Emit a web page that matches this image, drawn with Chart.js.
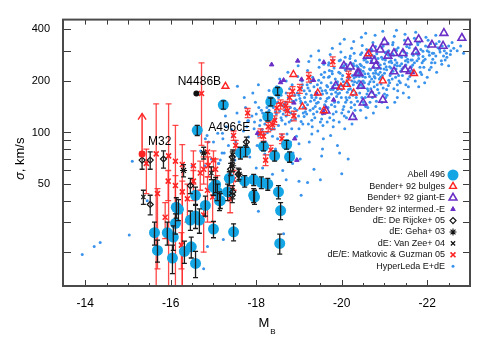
<!DOCTYPE html>
<html>
<head>
<meta charset="utf-8">
<script src="https://cdn.jsdelivr.net/npm/chart.js@4.4.1/dist/chart.umd.min.js"></script>
<style>
  html, body { margin: 0; padding: 0; background: #fff; }
  #wrap { width: 480px; height: 343px; }
</style>
</head>
<body>
<div id="wrap"><canvas id="fj" width="480" height="343"></canvas></div>
<script>
const FONT = "'Liberation Sans', Arial, Helvetica, sans-serif";

// axis ticks
const X_LABELS = [-14, -16, -18, -20, -22];
const X_MINOR = [-14, -14.5, -15, -15.5, -16, -16.5, -17, -17.5, -18, -18.5, -19, -19.5, -20, -20.5, -21, -21.5, -22, -22.5];
const Y_TICKS = [20, 30, 40, 50, 60, 70, 80, 90, 100, 200, 300, 400];
const Y_LABELS = [50, 100, 200, 400];

// Abell 496: [M_B, sigma, err]
const ABELL496 = [
  [-17.23,145,8],[-16.62,103,7],[-18.5,174,9],[-18.34,151,8],[-18.27,124,7],[-18.17,83,5],[-18.43,73,5],
  [-18.78,72,5],[-18.71,85,5],[-17.75,78,6],[-17.63,76,6],[-17.37,54,5],[-17.73,52,4],[-17.94,53,4],
  [-18.12,51,4],[-18.27,50,4],[-18.52,45,4],[-17.96,42,4],[-17.09,45,5],[-17.33,45,5],[-17.14,40,5],
  [-18.57,35,4],[-18.55,22.5,3],[-15.62,26,4],[-15.69,20.5,3],[-15.92,26,4],[-16.06,24.5,4],[-16.04,18.5,3.5],
  [-16.11,29.5,4],[-16.13,36.6,5],[-16.18,35.6,5],[-16.32,20.2,3],[-16.48,21.5,3],[-16.58,17.2,3],
  [-16.46,30.8,4],[-16.58,32.5,5],[-16.67,30.8,5],[-16.58,43,5],[-16.81,37.5,5],[-17.0,27.3,3],
  [-17.05,49.6,5],[-17.16,40,4],[-17.0,48,5],[-17.47,26.3,3],[-17.94,43,4]
];

// Matkovic & Guzman 05: [M_B, sigma, bar low, bar high]
const MATKOVIC = [
  [-15.43,66,44,80],[-15.66,75,12,147],[-15.95,73,12,147],[-16.11,68,12,110],[-16.27,65,12,85],
  [-15.69,44,16,47],[-15.87,32,24,39],[-16.25,22,16,26],[-15.94,52,40,60],[-16.11,49,38,56],
  [-16.27,45,12,52],[-16.39,41,30,50],[-16.53,52,40,60],[-16.69,58,46,68],[-16.86,46,30,55],
  [-16.98,42,30,48],[-17.09,48,40,56],[-16.77,33,20,38],[-17.39,41,34,48],[-17.47,53,46,60],
  [-16.86,77,66,88],[-17.0,69,60,78],[-16.88,64,55,72],[-17.05,61,52,70],[-16.77,61,50,72],
  [-16.53,64,50,78],[-16.72,169,84,255],
  [-19.79,259,243,276],[-19.23,210,197,224],[-18.85,174,163,185],[-18.78,160,150,170],[-18.69,143,134,152],
  [-18.57,146,137,155],[-18.48,139,130,148],[-18.73,134,126,142],[-18.88,125,117,133],[-18.43,118,111,125],
  [-18.38,111,104,118],[-17.8,130,122,138],[-20.16,215,202,228],[-18.28,108,101,115],[-18.17,95,89,101],
  [-18.22,69,64,74],[-18.1,99,93,105],[-18.34,79,74,84],[-18.3,122,115,129],[-18.6,92,86,98],
  [-19.02,180,169,191],[-17.47,96,90,102],[-17.52,84,78,90]
];

const BENDER_BULGES = [
  [-17.28,186],[-18.87,218],[-19.08,141],[-19.44,170],[-19.58,134],[-19.98,184],[-20.12,191],
  [-20.28,170],[-20.96,200],[-20.63,288],[-21.69,221]
];
const BENDER_GIANT = [
  [-22.39,380],[-22.81,356],[-22.37,320],[-22.11,325],[-21.8,350],[-21.55,337],[-21.0,337],[-20.73,308],
  [-20.9,304],[-21.22,290],[-21.43,290],[-21.73,296],[-21.08,280],[-20.76,262],[-20.4,222],[-21.48,233],
  [-21.22,227],[-20.45,187],[-20.7,166],[-20.96,155],[-20.5,149],[-20.8,245],[-20.6,280],[-20.05,245],
  [-20.2,242],[-20.37,222],[-19.86,187],[-20.26,123],[-19.63,134],[-21.6,228]
];
const BENDER_INTERMED = [
  [-18.36,249],[-18.97,262],[-18.64,202],[-18.57,196],[-19.06,204],[-19.34,202],[-19.41,168],
  [-19.58,130],[-19.81,155],[-19.58,257],[-18.03,99],[-18.9,92],[-18.95,69],[-18.88,149]
];
// [M_B, sigma, err]
const DE_RIJCKE = [
  [-15.33,69,8],[-15.52,69,8],[-15.83,70,8],[-15.52,38,5],[-16.46,49,5],[-17.44,43,4],[-17.77,88,6],
  [-17.4,61,5],[-17.58,57,5],[-17.45,45,4],[-17.44,72,5]
];
const GEHA = [[-16.77,76,6],[-17.45,64,5],[-17.6,57,4],[-16.3,60,5]];
const VAN_ZEE = [[-15.36,42,4],[-17.45,74,5],[-16.95,58,5]];

const HYPERLEDA = [
  [-16.7,78],[-16.85,96],[-16.8,64],[-17.0,88],[-17.1,99],[-16.95,70],[-17.12,66],
  [-17.2,76],[-17.3,108],[-17.22,92],[-17.35,84],[-17.28,125],
  [-17.45,95],[-17.55,130],[-17.5,69],[-17.6,115],[-17.42,104],[-17.56,186],[-17.52,88],
  [-17.7,102],[-17.8,117],[-17.75,140],[-17.68,80],[-17.82,94],[-17.9,125],[-17.72,160],[-17.85,72],[-17.78,108],
  [-17.95,105],[-18.0,128],[-18.05,96],[-17.98,150],[-18.1,118],[-18.02,84],[-17.92,170],[-18.08,110],[-18.12,135],[-18.0,62],[-18.05,190],
  [-17.96,115],[-18.06,140],[-18.14,104],
  [-18.2,112],[-18.25,140],[-18.3,125],[-18.18,98],[-18.28,160],[-18.35,104],[-18.22,88],[-18.3,176],[-18.15,130],[-18.27,117],[-18.33,146],[-18.2,75],[-18.38,95],
  [-18.21,122],[-18.3,135],[-18.26,100],[-18.36,128],
  [-18.45,120],[-18.5,150],[-18.55,133],[-18.42,105],[-18.58,165],[-18.5,92],[-18.48,185],[-18.6,118],[-18.4,140],[-18.52,110],[-18.62,143],[-18.45,80],[-18.55,205],[-18.47,128],[-18.6,97],
  [-18.45,132],[-18.58,122],[-18.52,160],[-18.4,112],[-18.63,128],[-18.36,150],
  [-18.7,125],[-18.75,160],[-18.8,140],[-18.68,112],[-18.78,180],[-18.82,118],[-18.72,98],[-18.85,152],[-18.7,200],[-18.76,132],[-18.8,88],[-18.66,146],[-18.88,128],[-18.74,225],[-18.83,105],[-18.7,170],[-18.86,76],
  [-18.69,150],[-18.81,130],[-18.77,115],[-18.9,165],[-18.67,135],[-18.84,190],
  [-18.95,135],[-19.0,165],[-19.05,148],[-18.92,120],[-19.08,190],[-19.0,105],[-18.97,212],[-19.1,130],[-19.02,158],[-18.94,95],[-19.12,175],[-19.05,116],[-18.98,245],[-19.1,140],[-19.0,86],[-19.07,200],[-18.93,155],[-19.12,124],[-19.03,70],
  [-18.9,138],[-19.04,152],[-19.15,132],[-18.96,170],[-19.09,112],[-19.13,160],[-18.99,125],[-19.06,182],
  [-19.2,145],[-19.25,175],[-19.3,160],[-19.18,128],[-19.28,200],[-19.33,138],[-19.22,112],[-19.35,185],[-19.2,230],[-19.27,152],[-19.3,98],[-19.17,168],[-19.37,122],[-19.23,260],[-19.32,210],[-19.26,135],[-19.19,190],[-19.36,155],[-19.24,88],[-19.3,118],[-19.28,280],
  [-19.15,150],[-19.29,165],[-19.38,142],[-19.21,182],[-19.34,128],[-19.27,195],[-19.16,138],[-19.4,172],[-19.31,108],
  [-19.45,150],[-19.5,182],[-19.55,168],[-19.42,132],[-19.58,210],[-19.5,115],[-19.47,240],[-19.6,145],[-19.52,195],[-19.44,102],[-19.62,176],[-19.55,128],[-19.48,265],[-19.6,225],[-19.5,158],[-19.43,190],[-19.57,92],[-19.62,140],[-19.46,300],[-19.53,120],[-19.58,250],[-19.41,170],[-19.55,80],
  [-19.4,160],[-19.54,175],[-19.63,152],[-19.46,202],[-19.59,135],[-19.52,218],[-19.41,148],[-19.65,188],[-19.56,110],[-19.49,138],
  [-19.7,160],[-19.75,195],[-19.8,178],[-19.68,140],[-19.78,220],[-19.83,150],[-19.72,122],[-19.85,205],[-19.7,255],[-19.76,168],[-19.8,108],[-19.67,185],[-19.87,132],[-19.73,285],[-19.82,238],[-19.76,145],[-19.69,210],[-19.86,172],[-19.74,96],[-19.8,128],[-19.78,310],[-19.71,230],[-19.84,190],[-19.66,115],[-19.79,265],
  [-19.65,170],[-19.79,185],[-19.88,162],[-19.71,212],[-19.84,142],[-19.77,228],[-19.66,158],[-19.9,198],[-19.81,118],[-19.74,178],[-19.69,248],
  [-19.95,170],[-20.0,205],[-20.05,188],[-19.92,150],[-20.08,232],[-20.0,130],[-19.97,265],[-20.1,160],[-20.02,215],[-19.94,115],[-20.12,195],[-20.05,142],[-19.98,295],[-20.1,250],[-20.0,178],[-19.93,225],[-20.07,105],[-20.12,155],[-19.96,330],[-20.03,136],[-20.08,275],[-19.91,190],[-20.05,245],[-20.11,122],[-19.99,160],[-20.06,350],
  [-19.9,178],[-20.04,198],[-20.13,172],[-19.96,222],[-20.09,150],[-20.02,240],[-19.91,168],[-20.15,208],[-20.06,125],[-19.99,188],[-19.94,262],[-20.1,230],
  [-20.2,180],[-20.25,215],[-20.3,198],[-20.18,160],[-20.28,245],[-20.33,170],[-20.22,140],[-20.35,228],[-20.2,280],[-20.27,190],[-20.3,125],[-20.17,208],[-20.37,152],[-20.23,310],[-20.32,262],[-20.26,165],[-20.19,235],[-20.36,195],[-20.24,112],[-20.3,145],[-20.28,340],[-20.21,255],[-20.34,212],[-20.16,132],[-20.29,290],[-20.25,175],[-20.38,240],
  [-20.15,190],[-20.29,208],[-20.38,182],[-20.21,232],[-20.34,160],[-20.27,252],[-20.16,178],[-20.4,222],[-20.31,135],[-20.24,200],[-20.19,270],[-20.35,245],[-20.22,150],
  [-20.45,190],[-20.5,228],[-20.55,210],[-20.42,170],[-20.58,258],[-20.5,150],[-20.47,292],[-20.6,180],[-20.52,240],[-20.44,135],[-20.62,220],[-20.55,160],[-20.48,322],[-20.6,275],[-20.5,200],[-20.43,250],[-20.57,122],[-20.62,175],[-20.46,360],[-20.53,145],[-20.58,305],[-20.41,212],[-20.55,268],[-20.61,140],[-20.49,185],[-20.56,380],[-20.44,232],
  [-20.4,200],[-20.54,220],[-20.63,192],[-20.46,245],[-20.59,168],[-20.52,265],[-20.41,188],[-20.65,235],[-20.56,142],[-20.49,212],[-20.44,285],[-20.6,258],[-20.47,160],[-20.53,195],
  [-20.7,205],[-20.75,240],[-20.8,222],[-20.68,180],[-20.78,272],[-20.83,190],[-20.72,160],[-20.85,255],[-20.7,305],[-20.76,212],[-20.8,142],[-20.67,232],[-20.87,170],[-20.73,335],[-20.82,288],[-20.76,185],[-20.69,262],[-20.86,218],[-20.74,130],[-20.8,165],[-20.78,370],[-20.71,282],[-20.84,236],[-20.66,150],[-20.79,318],[-20.75,198],
  [-20.65,212],[-20.79,230],[-20.88,205],[-20.71,255],[-20.84,178],[-20.77,278],[-20.66,198],[-20.9,248],[-20.81,152],[-20.74,222],[-20.69,298],[-20.85,270],[-20.72,172],[-20.78,208],
  [-20.95,215],[-21.0,252],[-21.05,232],[-20.92,192],[-21.08,285],[-21.0,168],[-20.97,320],[-21.1,202],[-21.02,265],[-20.94,150],[-21.12,242],[-21.05,178],[-20.98,350],[-21.1,300],[-21.0,222],[-20.93,275],[-21.07,140],[-21.12,195],[-20.96,390],[-21.03,160],[-21.08,332],[-20.91,236],[-21.05,295],[-21.11,258],
  [-20.9,225],[-21.04,242],[-21.13,215],[-20.96,268],[-21.09,188],[-21.02,292],[-20.91,210],[-21.15,262],[-21.06,165],[-20.99,235],[-20.94,312],[-21.1,282],[-20.97,182],
  [-21.2,228],[-21.25,265],[-21.3,245],[-21.18,205],[-21.28,300],[-21.33,215],[-21.22,180],[-21.35,280],[-21.2,335],[-21.27,235],[-21.3,160],[-21.17,255],[-21.37,195],[-21.23,365],[-21.32,312],[-21.26,210],[-21.19,288],[-21.36,245],[-21.24,150],[-21.3,190],[-21.28,395],
  [-21.15,238],[-21.29,255],[-21.38,228],[-21.21,282],[-21.34,200],[-21.27,305],[-21.16,222],[-21.4,275],[-21.31,175],[-21.24,248],[-21.19,325],
  [-21.45,240],[-21.5,278],[-21.55,258],[-21.42,215],[-21.58,312],[-21.5,190],[-21.47,345],[-21.6,228],[-21.52,290],[-21.44,170],[-21.62,265],[-21.55,205],[-21.48,375],[-21.6,325],[-21.5,248],[-21.43,300],[-21.57,160],[-21.62,220],
  [-21.4,252],[-21.54,268],[-21.63,242],[-21.46,295],[-21.59,212],[-21.52,318],[-21.41,235],[-21.65,288],[-21.56,185],[-21.49,262],
  [-21.7,255],[-21.75,292],[-21.8,270],[-21.68,228],[-21.78,325],[-21.83,240],[-21.72,200],[-21.85,305],[-21.7,355],[-21.76,262],[-21.8,185],[-21.67,282],[-21.87,218],[-21.73,385],[-21.82,338],
  [-21.65,265],[-21.79,282],[-21.88,255],[-21.71,308],[-21.84,225],[-21.77,335],[-21.66,248],[-21.9,298],
  [-21.95,268],[-22.0,300],[-22.05,282],[-21.92,240],[-22.08,330],[-22.0,210],[-21.97,360],[-22.1,255],[-22.02,315],[-21.94,195],[-22.12,290],[-22.05,232],
  [-21.9,278],[-22.04,295],[-22.13,268],[-21.96,320],[-22.09,240],[-22.02,345],[-21.91,262],
  [-22.2,280],[-22.25,312],[-22.3,295],[-22.18,255],[-22.28,340],[-22.33,262],[-22.22,225],[-22.35,320],[-22.2,370],
  [-22.15,290],[-22.29,305],[-22.38,280],[-22.21,330],[-22.34,250],
  [-22.45,290],[-22.5,320],[-22.55,300],[-22.42,265],[-22.58,335],[-22.5,245],[-22.7,300],[-22.78,320],[-22.85,290],
  [-22.4,300],[-22.54,285],[-22.62,310],[-22.46,275],
  [-13.93,19.4],[-14.21,21.6],[-14.35,22.8],[-15.03,25.2],[-15.1,68],[-15.45,40],[-16.86,21.6],[-17.23,23.7],
  [-16.77,16],[-16.5,64],[-16.81,92],[-16.88,88],[-17.16,69],[-18.05,34.7],[-18.64,25.6],[-19.2,51],[-19.05,43],
  [-20.0,57.5],[-19.5,53],[-19.35,61],[-19.95,76],[-19.9,84],[-19.53,73],[-20.15,70],[-18.85,66],[-18.62,60],
  [-18.38,57],[-18.15,62],[-18.29,47.6],[-18.7,53],[-19.0,52],[-17.12,66],[-17.21,99],[-17.82,117],[-17.25,76]
];

// labelled objects
const N4486B = [-16.6, 169];
const M32 = [-15.33, 75];
const M32_LIMIT = 129;   // arrow tip
const A496CE = [-16.62, 103];

const CYAN = "#14a6e4", RED = "#ff2424", PURPLE = "#6a2fc6", LEDA = "#3a93ec";

const sym = (arr) => arr.map(p => ({ x: p[0], y: p[1] }));
const withErr = (arr) => arr.map(p => ({ x: p[0], y: p[1], lo: p[1] - p[2], hi: p[1] + p[2] }));
const withBar = (arr) => arr.map(p => ({ x: p[0], y: p[1], lo: p[2], hi: p[3] }));

const datasets = [
  { label: "N4486B", data: sym([N4486B]), pointStyle: "circle", pointRadius: 3, backgroundColor: "#111", borderWidth: 0 },
  { label: "M32", data: sym([M32]), pointStyle: "circle", pointRadius: 3.5, backgroundColor: RED, borderWidth: 0 },
  { label: "dE: Van Zee+ 04", data: withErr(VAN_ZEE), pointStyle: "crossRot", pointRadius: 3, borderColor: "#111", borderWidth: 1.2, errColor: "#222", cap: 2.5 },
  { label: "dE: Geha+ 03", data: withErr(GEHA), pointStyle: "star", pointRadius: 3.5, borderColor: "#111", borderWidth: 1.1, errColor: "#222", cap: 2.5 },
  { label: "dE: De Rijcke+ 05", data: withErr(DE_RIJCKE), pointStyle: "rectRot", pointRadius: 3, backgroundColor: "rgba(0,0,0,0)", borderColor: "#111", borderWidth: 1.2, errColor: "#222", cap: 2.5 },
  { label: "Abell 496", data: withErr(ABELL496), pointStyle: "circle", pointRadius: 5.5, backgroundColor: CYAN, borderWidth: 0, errColor: "#1a1a1a", cap: 2.5 },
  { label: "dE/E: Matkovic & Guzman 05", data: withBar(MATKOVIC), pointStyle: "crossRot", pointRadius: 3.5, borderColor: RED, borderWidth: 1.6, errColor: "rgba(255,40,40,0.85)", cap: 3 },
  { label: "Bender+ 92 bulges", data: sym(BENDER_BULGES), pointStyle: "triangle", pointRadius: 4, backgroundColor: "rgba(0,0,0,0)", borderColor: RED, borderWidth: 1.4 },
  { label: "Bender+ 92 intermed.-E", data: sym(BENDER_INTERMED), pointStyle: "triangle", pointRadius: 2.6, backgroundColor: PURPLE, borderColor: PURPLE, borderWidth: 1 },
  { label: "Bender+ 92 giant-E", data: sym(BENDER_GIANT), pointStyle: "triangle", pointRadius: 4.5, backgroundColor: "rgba(0,0,0,0)", borderColor: PURPLE, borderWidth: 1.6 },
  { label: "HyperLeda E+dE", data: sym(HYPERLEDA), pointStyle: "circle", pointRadius: 1.5, backgroundColor: LEDA, borderWidth: 0 }
];

const LEGEND = ["Abell 496", "Bender+ 92 bulges", "Bender+ 92 giant-E", "Bender+ 92 intermed.-E",
  "dE: De Rijcke+ 05", "dE: Geha+ 03", "dE: Van Zee+ 04", "dE/E: Matkovic & Guzman 05", "HyperLeda E+dE"];

function line(ctx, x1, y1, x2, y2) {
  ctx.beginPath(); ctx.moveTo(x1, y1); ctx.lineTo(x2, y2); ctx.stroke();
}

// error bars, drawn right after their own dataset
const errBars = {
  id: "errBars",
  afterDatasetDraw(chart, args) {
    const ds = chart.data.datasets[args.index];
    if (!ds.errColor) return;
    const { ctx, chartArea: a, scales: { x, y } } = chart;
    ctx.save();
    ctx.beginPath(); ctx.rect(a.left, a.top, a.width, a.height); ctx.clip();
    ctx.strokeStyle = ds.errColor;
    ctx.lineWidth = 1.3;
    ds.data.forEach(p => {
      const px = x.getPixelForValue(p.x);
      const y1 = y.getPixelForValue(p.lo), y2 = y.getPixelForValue(p.hi);
      line(ctx, px, y1, px, y2);
      line(ctx, px - ds.cap, y1, px + ds.cap, y1);
      line(ctx, px - ds.cap, y2, px + ds.cap, y2);
    });
    ctx.restore();
  }
};

const frame = {
  id: "frame",
  afterDraw(chart) {
    const { ctx, chartArea: a, scales: { x, y } } = chart;
    const H = Chart.helpers;
    ctx.save();

    // arrow on M32
    ctx.strokeStyle = RED; ctx.lineWidth = 1.4;
    const ax = x.getPixelForValue(M32[0]);
    const ay1 = y.getPixelForValue(M32[1]) - 3, ay2 = y.getPixelForValue(M32_LIMIT);
    line(ctx, ax, ay1, ax, ay2);
    ctx.beginPath(); ctx.moveTo(ax - 4, ay2 + 6); ctx.lineTo(ax, ay2); ctx.lineTo(ax + 4, ay2 + 6); ctx.stroke();

    // object names
    ctx.fillStyle = "#000";
    ctx.font = "12px " + FONT;
    ctx.textBaseline = "middle";
    ctx.textAlign = "center";
    ctx.fillText("N4486B", x.getPixelForValue(N4486B[0]) + 3, y.getPixelForValue(N4486B[1]) - 12);
    ctx.textAlign = "left";
    ctx.fillText("A496cE", x.getPixelForValue(A496CE[0]) + 11, y.getPixelForValue(A496CE[1]) - 3);
    ctx.fillText("M32", x.getPixelForValue(M32[0]) + 6, y.getPixelForValue(M32[1]) - 12);

    // ticks on all four sides, pointing in
    ctx.strokeStyle = "#3c3c3c"; ctx.lineWidth = 1;
    Y_TICKS.forEach(v => {
      const py = Math.round(y.getPixelForValue(v)) + 0.5;
      line(ctx, a.left, py, a.left + 8, py);
      line(ctx, a.right, py, a.right - 7, py);
    });
    X_MINOR.forEach(v => {
      const px = Math.round(x.getPixelForValue(v)) + 0.5;
      const big = X_LABELS.includes(v);
      line(ctx, px, a.bottom, px, a.bottom - (big ? 6 : 3));
      line(ctx, px, a.top, px, a.top + 5);
    });
    ctx.strokeStyle = "#4a4a4a"; ctx.lineWidth = 2;
    ctx.strokeRect(a.left, a.top, a.width, a.height);

    // axis titles
    ctx.fillStyle = "#000";
    ctx.save();
    ctx.translate(20, (a.top + a.bottom) / 2 + 6);
    ctx.rotate(-Math.PI / 2);
    ctx.textAlign = "left";
    ctx.textBaseline = "middle";
    ctx.font = "italic 13px " + FONT;
    const w1 = ctx.measureText("σ").width;
    ctx.font = "13px " + FONT;
    const w2 = ctx.measureText(", km/s").width;
    ctx.font = "italic 13px " + FONT;
    ctx.fillText("σ", -(w1 + w2) / 2, 0);
    ctx.font = "13px " + FONT;
    ctx.fillText(", km/s", -(w1 + w2) / 2 + w1, 0);
    ctx.restore();

    ctx.textAlign = "left"; ctx.textBaseline = "alphabetic";
    const mx = (a.left + a.right) / 2 - 8;
    ctx.font = "13px " + FONT;
    ctx.fillText("M", mx, 327);
    ctx.font = "8px " + FONT;
    ctx.fillText("B", mx + ctx.measureText("M").width + 5, 334);

    // legend, text right-aligned with the symbol on the right
    ctx.font = "9px " + FONT;
    ctx.textAlign = "right"; ctx.textBaseline = "middle";
    LEGEND.forEach((lab, i) => {
      const ly = 175 + i * 11.4;
      ctx.fillStyle = "#111";
      ctx.fillText(lab, 445, ly);
      const ds = datasets.find(d => d.label === lab);
      ctx.fillStyle = ds.backgroundColor || "rgba(0,0,0,0)";
      ctx.strokeStyle = ds.borderColor || "rgba(0,0,0,0)";
      ctx.lineWidth = ds.borderWidth || 0;
      H.drawPoint(ctx, { pointStyle: ds.pointStyle, radius: ds.pointRadius, rotation: 0, borderWidth: ds.borderWidth || 0 }, 453, ly);
    });
    ctx.restore();
  }
};

new Chart(document.getElementById("fj"), {
  type: "scatter",
  data: { datasets },
  plugins: [errBars, frame],
  options: {
    responsive: false,
    animation: false,
    events: [],
    layout: { padding: { top: 14, right: 10, left: 0, bottom: 0 } },
    plugins: { legend: { display: false }, tooltip: { enabled: false } },
    scales: {
      x: {
        type: "linear", reverse: true, min: -23, max: -13.48,
        grid: { display: false, drawTicks: false }, border: { display: false },
        afterBuildTicks: (s) => { s.ticks = X_LABELS.map(v => ({ value: v })); },
        afterFit: (s) => { s.height = 57; },
        ticks: { autoSkip: false, maxRotation: 0, padding: 10, color: "#000", font: { family: FONT, size: 12 },
          callback: (v) => String(v) }
      },
      y: {
        type: "logarithmic", min: 12.7, max: 456,
        grid: { display: false, drawTicks: false }, border: { display: false },
        afterBuildTicks: (s) => { s.ticks = Y_TICKS.map(v => ({ value: v })); },
        afterFit: (s) => { s.width = 63; },
        ticks: { autoSkip: false, padding: 13, color: "#000", font: { family: FONT, size: 11 },
          callback: (v) => Y_LABELS.includes(v) ? String(v) : "" }
      }
    }
  }
});
</script>
</body>
</html>
